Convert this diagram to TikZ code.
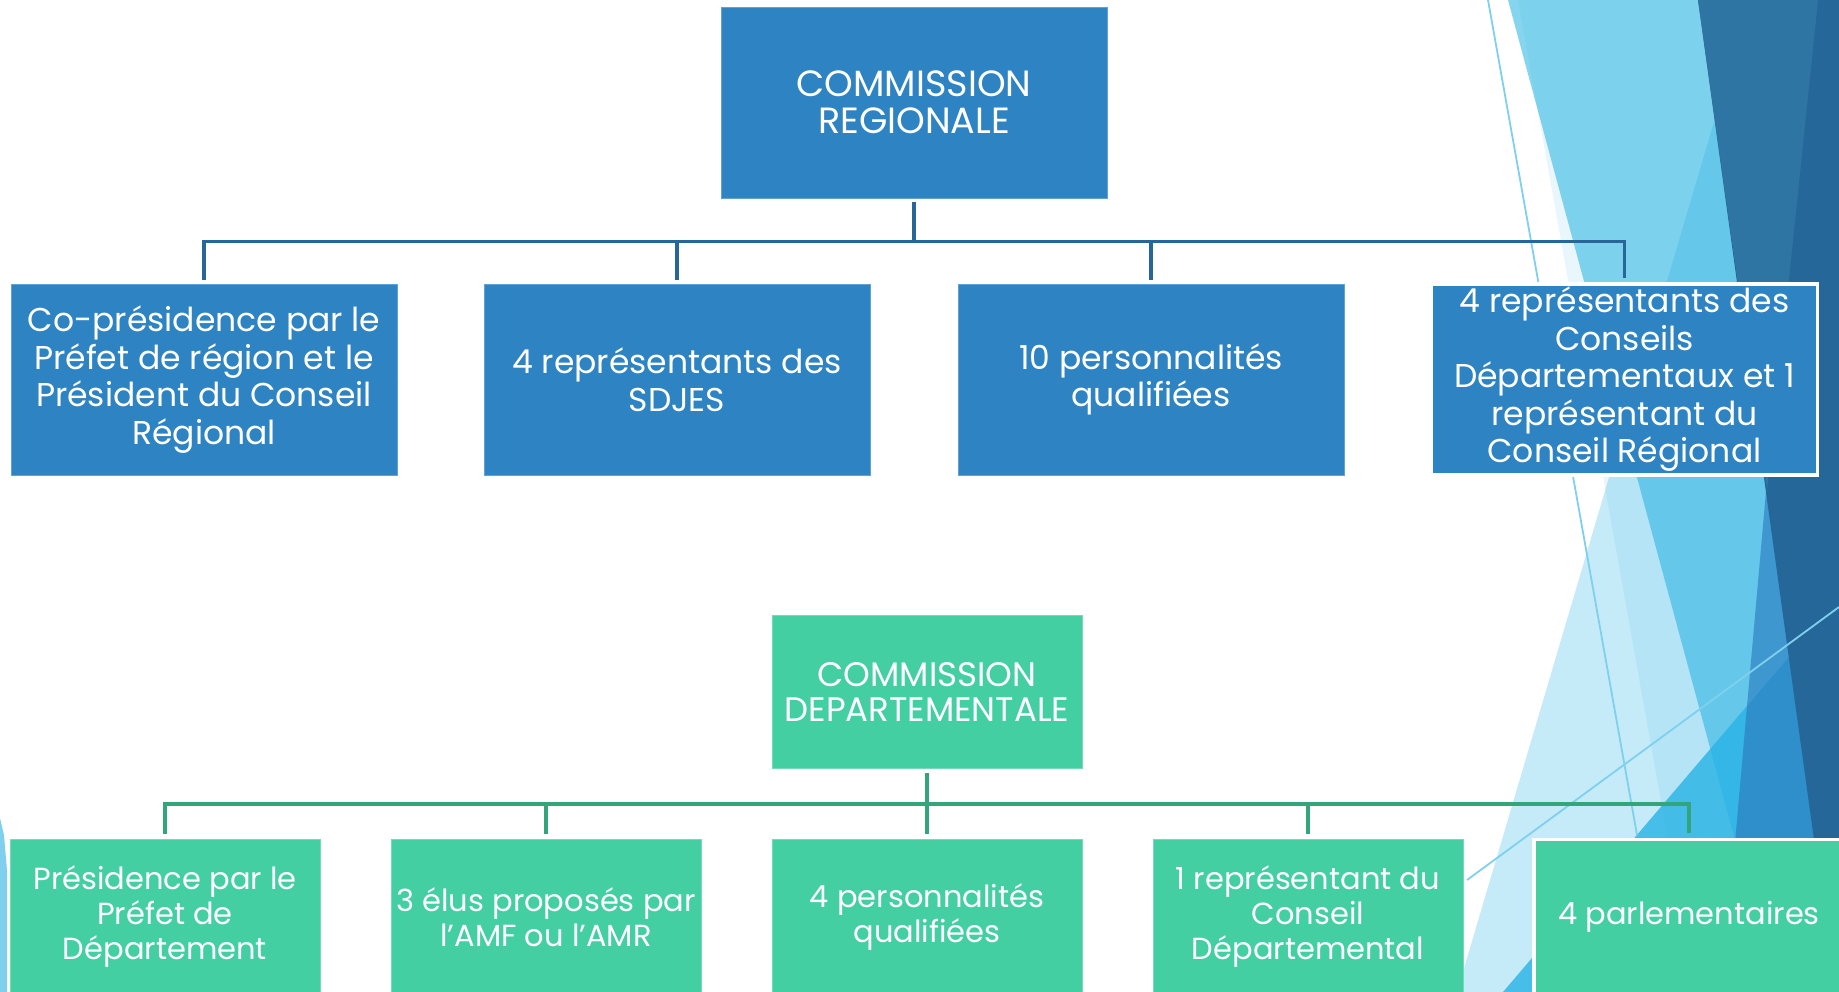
\documentclass[tikz,border=0pt]{standalone}
\usepackage{fontspec}
\setmainfont{Poppins}
\usetikzlibrary{calc}

\definecolor{boxblue}{RGB}{46,131,195}
\definecolor{linkblue}{RGB}{40,101,152}
\definecolor{boxgreen}{RGB}{68,207,162}
\definecolor{linkgreen}{RGB}{50,165,123}
\definecolor{facetcyan}{RGB}{134,213,239}
\definecolor{facetsky}{RGB}{40,178,229}
\definecolor{facetmid}{RGB}{63,151,207}
\definecolor{facetmidlow}{RGB}{46,143,203}
\definecolor{facetdark}{RGB}{38,103,154}
\definecolor{facetdarklight}{RGB}{47,117,164}
\definecolor{facetline}{RGB}{127,208,238}

\tikzset{
  regbox/.style={rectangle, fill=boxblue, draw=boxblue!75!white, line width=0.8pt,
    text=white, align=center, inner sep=0pt, minimum width=386pt, minimum height=191pt,
    font=\fontsize{33}{37.5}\selectfont},
  depbox/.style={rectangle, fill=boxgreen, draw=boxgreen!75!white, line width=0.8pt,
    text=white, align=center, inner sep=0pt, minimum width=310pt, minimum height=155pt,
    font=\fontsize{30.5}{35}\selectfont},
  regtitle/.style={regbox, font=\fontsize{36.5}{37}\selectfont},
  deptitle/.style={depbox, minimum height=153pt, font=\fontsize{34}{35}\selectfont},
  framed/.style={draw=white, line width=3.5pt},
  reglink/.style={draw=linkblue, line width=3.5pt, shorten <=4pt, shorten >=4pt},
  deplink/.style={draw=linkgreen, line width=4pt, shorten <=5pt, shorten >=5pt},
  facetstroke/.style={draw=facetline, line width=1.8pt}
}

\begin{document}
\begin{tikzpicture}[x=1pt,y=-1pt]

\def \RowA {379.5};
\def \RowB {917};

\useasboundingbox (0,0) rectangle (1839,992);

% background facets
\begin{scope}
\fill[facetcyan] (1508,0)--(1839,0)--(1839,992)--(1776,992)--cycle;
\fill[facetsky,opacity=0.1] (1518,0)--(1839,0)--(1839,992)--(1695,992)--cycle;
\fill[facetsky,opacity=0.27] (1716,115)--(1839,992)--(1457,992)--cycle;
\fill[facetsky,opacity=0.8] (1839,598)--(1839,992)--(1503,992)--cycle;
\fill[facetmid] (1767,480)--(1839,480)--(1839,598)--(1747,706)--cycle;
\fill[facetmidlow] (1747,706)--(1839,598)--(1839,992)--(1722,992)--cycle;
\fill[facetdark] (1698,0)--(1839,0)--(1839,992)--(1835,992)--cycle;
\fill[facetdarklight] (1698,0)--(1818,0)--(1767,490)--cycle;
\draw[facetstroke] (1488,0)--(1637,835);
\draw[facetstroke] (1467,880)--(1839,607);
\fill[facetline] (0,818)--(4,835)--(7,870)--(7,992)--(0,992)--cycle;
\end{scope}

% commission regionale
\node[regtitle] (reg) at (914,102.5) {COMMISSION\\REGIONALE};
\node[regbox] (coprez) at (204,\RowA) {Co-présidence par le\\Préfet de région et le\\Président du Conseil\\Régional};
\node[regbox] (sdjes) at (677,\RowA) {4 représentants des\\SDJES};
\node[regbox] (persreg) at (1151,\RowA) {10 personnalités\\qualifiées};
\node[regbox,framed] (conseils) at (1624.5,\RowA) {4 représentants des\\Conseils\\Départementaux et 1\\représentant du\\Conseil Régional};

\foreach \n in {coprez,sdjes,persreg,conseils}
  \draw[reglink] (reg.south) -- ++(0,43) -| (\n.north);

% commission departementale
\node[deptitle] (dep) at (927,691.5) {COMMISSION\\DEPARTEMENTALE};
\node[depbox] (prez) at (165,\RowB) {Présidence par le\\Préfet de\\Département};
\node[depbox] (elus) at (546,\RowB) {3 élus proposés par\\l’AMF ou l’AMR};
\node[depbox] (persdep) at (927,\RowB) {4 personnalités\\qualifiées};
\node[depbox] (cdep) at (1308,\RowB) {1 représentant du\\Conseil\\Départemental};
\node[depbox,framed] (parl) at (1689,\RowB) {4 parlementaires};

\foreach \n in {prez,elus,persdep,cdep,parl}
  \draw[deplink] (dep.south) -- ++(0,36) -| (\n.north);

\end{tikzpicture}
\end{document}
